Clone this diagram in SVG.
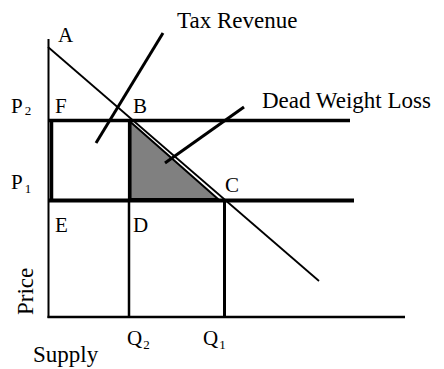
<svg xmlns="http://www.w3.org/2000/svg" width="444" height="369" viewBox="0 0 444 369">
<style>
#labels text{font-family:"Liberation Serif","Times New Roman",serif;fill:#000}
.lbl{font-size:21px}
.sub{font-size:13px}
.big{font-size:23px}
.ln{stroke:#000;fill:none;stroke-linecap:butt}
</style>
<rect width="444" height="369" fill="#fff"/>
<g id="axes">
<line class="ln" x1="48.5" y1="39" x2="48.5" y2="318" stroke-width="2"/>
<line class="ln" x1="47.5" y1="317" x2="405" y2="317" stroke-width="2.5"/>
</g>
<g id="dwl-area">
<polygon points="130.5,122 130.5,199 218,199" fill="#808080" stroke="#000" stroke-width="2"/>
</g>
<g id="connectors">
<line class="ln" x1="48" y1="47" x2="319" y2="281" stroke-width="1.8"/>
<line class="ln" x1="48" y1="120.5" x2="350" y2="120.5" stroke-width="3.5"/>
<line class="ln" x1="48" y1="200.5" x2="354" y2="200.5" stroke-width="4"/>
<line class="ln" x1="51.5" y1="119" x2="51.5" y2="202" stroke-width="3.5"/>
<line class="ln" x1="129.5" y1="119" x2="129.5" y2="202" stroke-width="3.2"/>
<line class="ln" x1="129" y1="200" x2="129" y2="317" stroke-width="2.5"/>
<line class="ln" x1="224.5" y1="200" x2="224.5" y2="317" stroke-width="3"/>
<line class="ln" x1="96" y1="143" x2="163" y2="33" stroke-width="3"/>
<line class="ln" x1="165" y1="163" x2="244" y2="107" stroke-width="3"/>
</g>
<g id="labels">
<text class="lbl" x="58" y="42">A</text>
<text class="lbl" x="55" y="113">F</text>
<text class="lbl" x="133" y="113">B</text>
<text class="lbl" x="55" y="232">E</text>
<text class="lbl" x="133" y="232">D</text>
<text class="lbl" x="225" y="192">C</text>
<text class="lbl" x="11" y="113">P<tspan class="sub" dx="2" dy="2">2</tspan></text>
<text class="lbl" x="11" y="189">P<tspan class="sub" dx="2" dy="4">1</tspan></text>
<text class="lbl" x="127" y="345">Q<tspan class="sub" dx="1" dy="4">2</tspan></text>
<text class="lbl" x="203" y="345">Q<tspan class="sub" dx="1" dy="4">1</tspan></text>
<text class="big" x="177" y="28">Tax Revenue</text>
<text class="big" x="262" y="108">Dead Weight Loss</text>
<text class="big" transform="translate(33,315) rotate(-90)">Price</text>
<text class="big" x="33" y="362">Supply</text>
</g>
</svg>
